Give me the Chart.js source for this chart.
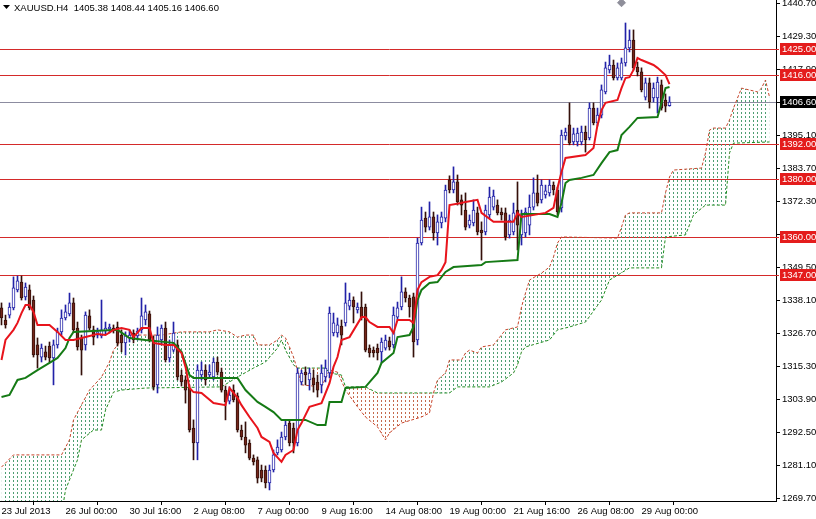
<!DOCTYPE html>
<html>
<head>
<meta charset="utf-8">
<script src="https://cdn.jsdelivr.net/npm/chart.js@4.4.0/dist/chart.umd.min.js"></script>
<style>
html, body { margin: 0; padding: 0; background: #fff; }
canvas { display: block; }
</style>
</head>
<body>
<canvas id="chart" width="816" height="519"></canvas>
<script>
var symbolTitle = 'XAUUSD.H4  1405.38 1408.44 1405.16 1406.60';

// H4 candles, bar 0 = 23 Jul 2013
var opens = [
    1335.5, 1331.3, 1333.0, 1335.5, 1341.7, 1344.4, 1339.3, 1341.7, 1338.2, 1322.7,
    1318.5, 1320.3, 1322.3, 1318.2, 1322.7, 1327.2, 1332.0, 1333.4, 1337.2, 1328.5,
    1325.1, 1322.7, 1332.7, 1327.9, 1326.1, 1325.8, 1327.5, 1328.2, 1328.5, 1328.9,
    1326.1, 1323.4, 1325.1, 1326.8, 1325.8, 1327.9, 1331.3, 1333.4, 1324.4, 1308.9,
    1324.4, 1328.5, 1318.2, 1320.9, 1322.7, 1312.3, 1310.6, 1307.8, 1294.0, 1288.8,
    1312.3, 1314.0, 1312.3, 1311.6, 1316.8, 1313.3, 1307.1, 1303.3, 1307.1, 1305.1,
    1293.3, 1290.9, 1288.8, 1283.6, 1283.0, 1279.5, 1279.5, 1275.0, 1279.5, 1285.4,
    1286.4, 1290.9, 1295.7, 1294.0, 1288.8, 1309.9, 1313.3, 1310.6, 1311.3, 1309.9,
    1308.9, 1311.6, 1313.0, 1326.8, 1326.8, 1329.2, 1330.3, 1336.1, 1338.2, 1334.8,
    1335.8, 1335.8, 1321.6, 1320.9, 1321.6, 1320.3, 1321.6, 1324.1, 1322.7, 1332.3,
    1335.8, 1341.0, 1338.9, 1339.3, 1324.4, 1357.9, 1366.5, 1363.4, 1366.9, 1361.4,
    1364.8, 1366.5, 1379.7, 1376.2, 1379.0, 1372.8, 1369.3, 1364.1, 1364.8, 1368.3,
    1362.4, 1361.7, 1367.6, 1370.3, 1371.0, 1368.6, 1368.3, 1360.7, 1361.7, 1369.3,
    1360.7, 1361.4, 1364.1, 1370.3, 1375.2, 1372.8, 1374.5, 1375.2, 1377.9, 1376.2,
    1370.0, 1394.9, 1398.7, 1392.8, 1392.8, 1392.8, 1396.2, 1394.2, 1404.5, 1399.4,
    1402.1, 1410.1, 1417.7, 1419.4, 1414.9, 1414.9, 1420.1, 1425.3, 1428.0, 1418.7,
    1417.0, 1408.3, 1413.2, 1408.0, 1408.0, 1412.5, 1407.3, 1405.38
];
var highs = [
    1337.2, 1333.0, 1337.2, 1346.2, 1346.5, 1346.5, 1344.1, 1343.4, 1339.6, 1325.1,
    1323.0, 1322.3, 1323.7, 1324.4, 1328.5, 1334.8, 1336.5, 1340.6, 1338.9, 1330.6,
    1326.1, 1334.1, 1334.8, 1329.2, 1328.5, 1338.2, 1330.6, 1329.9, 1329.6, 1330.6,
    1327.9, 1327.2, 1327.9, 1327.9, 1328.5, 1338.9, 1336.5, 1334.4, 1325.8, 1328.9,
    1329.6, 1330.6, 1324.4, 1330.6, 1324.4, 1314.0, 1312.0, 1308.9, 1296.8, 1315.8,
    1316.8, 1315.8, 1315.8, 1318.2, 1318.5, 1314.7, 1308.5, 1308.2, 1308.9, 1306.1,
    1295.0, 1296.1, 1289.9, 1284.7, 1284.0, 1281.2, 1280.9, 1281.2, 1286.4, 1289.9,
    1292.6, 1296.8, 1296.8, 1295.7, 1314.7, 1314.0, 1315.1, 1314.7, 1314.0, 1312.3,
    1315.8, 1317.5, 1335.8, 1333.7, 1332.0, 1331.3, 1344.1, 1340.6, 1339.3, 1337.2,
    1341.0, 1336.8, 1322.7, 1322.0, 1323.0, 1325.1, 1326.1, 1325.4, 1335.8, 1337.5,
    1346.2, 1342.4, 1339.9, 1340.6, 1359.6, 1370.3, 1368.6, 1372.1, 1368.6, 1367.6,
    1368.6, 1377.9, 1381.1, 1384.2, 1381.4, 1374.5, 1375.2, 1367.6, 1372.8, 1370.3,
    1365.2, 1371.0, 1377.2, 1376.2, 1372.8, 1370.0, 1370.0, 1367.6, 1371.7, 1379.0,
    1369.3, 1370.0, 1374.5, 1380.4, 1381.4, 1379.7, 1377.9, 1379.7, 1379.0, 1377.2,
    1396.9, 1397.6, 1406.3, 1397.6, 1397.6, 1398.3, 1398.3, 1406.3, 1406.3, 1404.5,
    1412.5, 1420.4, 1422.8, 1421.1, 1420.1, 1421.8, 1433.9, 1431.5, 1431.5, 1420.4,
    1418.4, 1414.9, 1414.9, 1413.2, 1415.2, 1414.2, 1409.4, 1408.44
];
var lows = [
    1329.6, 1328.5, 1332.0, 1334.8, 1341.0, 1338.2, 1338.2, 1334.8, 1318.5, 1314.7,
    1316.8, 1317.5, 1316.8, 1308.9, 1321.6, 1326.1, 1331.3, 1332.7, 1327.2, 1320.9,
    1312.3, 1320.9, 1327.9, 1322.7, 1325.1, 1325.1, 1326.5, 1326.8, 1326.8, 1322.3,
    1320.3, 1319.2, 1323.7, 1323.4, 1324.4, 1326.8, 1329.6, 1323.7, 1307.1, 1306.1,
    1322.7, 1316.8, 1316.8, 1320.3, 1310.6, 1308.5, 1302.6, 1292.6, 1283.0, 1283.0,
    1310.6, 1308.9, 1311.3, 1310.6, 1312.3, 1306.4, 1296.8, 1302.3, 1303.0, 1292.6,
    1289.9, 1285.4, 1283.0, 1281.2, 1275.0, 1275.4, 1273.3, 1272.6, 1278.8, 1284.7,
    1285.7, 1289.9, 1287.8, 1285.4, 1287.8, 1308.9, 1308.9, 1307.1, 1306.4, 1304.7,
    1306.1, 1309.9, 1311.3, 1325.8, 1325.4, 1322.7, 1329.2, 1334.8, 1330.3, 1333.7,
    1331.3, 1320.3, 1318.5, 1318.5, 1317.5, 1316.5, 1320.9, 1320.9, 1321.6, 1331.3,
    1334.8, 1337.5, 1332.3, 1318.5, 1322.7, 1357.2, 1361.7, 1362.4, 1358.9, 1357.2,
    1363.1, 1365.2, 1375.2, 1375.2, 1371.0, 1367.6, 1362.4, 1363.1, 1363.8, 1360.7,
    1352.0, 1360.7, 1366.5, 1369.3, 1367.6, 1365.8, 1358.9, 1359.6, 1360.7, 1355.5,
    1357.2, 1360.0, 1360.7, 1369.3, 1370.7, 1371.7, 1373.4, 1374.1, 1374.5, 1367.6,
    1368.6, 1393.5, 1391.8, 1391.8, 1391.4, 1391.8, 1389.3, 1393.5, 1398.7, 1398.3,
    1401.1, 1409.4, 1416.6, 1414.2, 1414.2, 1414.2, 1419.0, 1423.9, 1417.7, 1415.6,
    1410.1, 1407.3, 1404.5, 1406.6, 1402.8, 1403.8, 1403.2, 1405.16
];
var closes = [
    1332.0, 1329.6, 1335.8, 1342.4, 1344.8, 1338.9, 1342.7, 1335.5, 1319.2, 1319.2,
    1321.6, 1318.5, 1318.2, 1322.7, 1327.2, 1332.0, 1334.1, 1337.2, 1327.9, 1322.0,
    1320.9, 1333.0, 1328.5, 1325.4, 1327.2, 1327.9, 1328.5, 1328.9, 1327.9, 1323.4,
    1323.4, 1325.8, 1326.1, 1324.4, 1327.5, 1332.7, 1334.1, 1324.4, 1308.2, 1326.1,
    1328.5, 1317.5, 1322.7, 1326.8, 1311.6, 1309.9, 1307.1, 1293.3, 1288.8, 1314.0,
    1314.0, 1310.6, 1313.3, 1316.8, 1313.3, 1307.1, 1303.0, 1305.4, 1303.7, 1293.3,
    1290.9, 1288.1, 1283.6, 1282.3, 1276.7, 1276.7, 1275.0, 1279.5, 1284.7, 1287.4,
    1290.9, 1295.0, 1288.8, 1288.8, 1313.0, 1313.0, 1312.3, 1313.0, 1308.9, 1307.1,
    1313.0, 1314.7, 1333.7, 1330.3, 1329.6, 1326.1, 1337.2, 1338.2, 1335.8, 1335.8,
    1332.0, 1320.9, 1319.9, 1319.9, 1319.9, 1323.7, 1324.4, 1322.0, 1333.0, 1335.5,
    1341.0, 1338.9, 1335.8, 1323.7, 1357.9, 1365.8, 1363.4, 1366.9, 1361.4, 1365.2,
    1366.9, 1376.2, 1376.2, 1379.0, 1372.1, 1371.0, 1363.4, 1365.8, 1369.3, 1361.7,
    1361.4, 1369.3, 1373.8, 1374.1, 1368.3, 1367.6, 1360.0, 1365.8, 1368.3, 1364.1,
    1367.6, 1368.6, 1370.3, 1375.2, 1371.7, 1377.9, 1375.9, 1377.9, 1376.2, 1368.6,
    1395.2, 1396.2, 1392.4, 1395.6, 1395.9, 1396.2, 1393.5, 1404.5, 1399.4, 1402.1,
    1410.8, 1418.4, 1419.4, 1414.9, 1418.4, 1420.1, 1425.3, 1428.0, 1418.4, 1417.0,
    1410.8, 1413.2, 1406.6, 1411.4, 1413.5, 1404.5, 1405.2, 1406.60
];

// Ichimoku lines as [bar, price]
var tenkan = [
    [0,1317.5],[1,1324.4],[3,1327.9],[4,1330.3],[5,1333.7],[6,1336.5],[7,1336.5],[8,1334.1],[9,1329.6],
    [12,1329.6],[14,1327.2],[16,1324.4],[18,1324.4],[20,1325.1],[22,1325.8],[24,1326.5],[26,1326.1],
    [28,1327.9],[30,1328.5],[32,1327.9],[33,1325.4],[35,1328.5],[37,1328.5],[38,1323.4],[41,1322.7],
    [43,1322.7],[45,1319.9],[46,1315.1],[47,1307.8],[48,1306.4],[50,1306.1],[53,1302.6],[56,1301.9],
    [57,1307.8],[58,1306.1],[59,1304.4],[60,1301.9],[62,1297.8],[64,1294.0],[65,1290.9],[67,1289.2],
    [68,1285.4],[70,1282.3],[71,1284.7],[73,1286.4],[74,1293.3],[75,1295.7],[77,1301.3],[80,1302.6],
    [82,1309.5],[83,1315.1],[84,1318.5],[85,1324.4],[87,1325.4],[90,1332.3],[91,1332.3],[92,1330.6],
    [94,1328.9],[97,1328.9],[98,1326.8],[99,1331.3],[102,1331.3],[103,1330.3],[104,1341.7],[105,1344.4],
    [107,1346.2],[109,1346.8],[110,1348.6],[111,1351.3],[112,1371.0],[115,1371.7],[116,1372.1],
    [119,1372.8],[120,1368.3],[123,1365.2],[128,1365.2],[129,1368.3],[130,1366.9],[136,1368.3],
    [138,1370.0],[139,1376.9],[140,1382.4],[141,1387.3],[146,1388.3],[148,1390.7],[149,1398.7],
    [150,1403.8],[151,1406.3],[154,1407.3],[155,1411.4],[156,1414.9],[157,1415.2],[158,1417.7],
    [159,1421.8],[160,1421.1],[163,1419.4],[164,1418.4],[166,1415.9],[167,1412.8]
];
var kijun = [
    [0,1304.7],[2,1305.4],[4,1310.6],[6,1311.3],[9,1314.0],[12,1316.5],[14,1318.2],[16,1321.6],
    [17,1325.1],[18,1327.2],[29,1327.9],[32,1325.1],[36,1324.4],[43,1323.4],[45,1320.3],[47,1312.3],
    [48,1311.3],[59,1311.3],[61,1307.1],[64,1303.0],[66,1301.3],[68,1299.5],[70,1296.8],[76,1296.8],
    [79,1295.0],[81,1295.0],[82,1303.0],[85,1303.0],[86,1307.8],[91,1308.2],[94,1313.0],[95,1316.5],
    [98,1319.9],[99,1325.4],[102,1326.1],[103,1328.9],[104,1338.2],[105,1341.7],[107,1344.1],
    [109,1344.4],[111,1347.9],[113,1349.6],[120,1350.3],[121,1351.3],[129,1352.0],[130,1367.9],
    [137,1367.9],[139,1366.9],[140,1371.7],[141,1378.6],[142,1379.7],[145,1380.4],[148,1381.4],
    [150,1385.5],[152,1389.3],[154,1390.0],[155,1395.2],[157,1398.0],[159,1401.1],[164,1401.4],
    [165,1406.3],[166,1411.4],[167,1411.8]
];
var spanA = [
    [0,1280.5],[3,1284.7],[15,1284.7],[17,1289.9],[18,1296.8],[20,1302.0],[22,1307.1],[25,1311.6],
    [27,1316.8],[28,1320.9],[30,1324.4],[32,1326.1],[40,1326.1],[45,1327.2],[52,1327.2],[54,1327.9],
    [57,1327.2],[59,1325.4],[61,1326.1],[63,1326.1],[64,1322.7],[67,1322.7],[69,1324.4],[70,1326.1],
    [71,1325.1],[72,1322.0],[73,1318.5],[74,1314.0],[75,1308.9],[80,1308.2],[82,1314.0],[84,1313.3],
    [86,1307.1],[89,1301.3],[91,1297.8],[94,1294.4],[96,1289.9],[97,1292.3],[100,1295.7],[105,1297.8],
    [107,1299.2],[108,1306.1],[109,1310.6],[111,1313.0],[112,1317.5],[115,1317.5],[116,1319.9],
    [117,1320.9],[119,1319.9],[120,1322.0],[123,1322.7],[126,1327.9],[129,1328.9],[130,1335.8],
    [131,1340.6],[132,1345.1],[135,1347.5],[137,1349.6],[138,1353.1],[139,1357.9],[140,1360.0],
    [154,1359.6],[155,1363.4],[156,1367.6],[157,1368.3],[165,1368.3],[166,1375.2],[167,1380.7],
    [168,1383.1],[175,1383.8],[176,1389.0],[177,1396.9],[178,1397.6],[181,1397.6],[182,1400.4],
    [183,1404.5],[185,1411.4],[189,1410.1],[190,1411.4],[191,1414.2],[192,1408.3]
];
var spanB = [
    [0,1264.0],[15,1264.0],[16,1272.6],[19,1283.0],[20,1289.9],[23,1293.3],[25,1293.3],[26,1300.2],
    [28,1306.4],[30,1307.1],[36,1307.8],[55,1308.2],[59,1311.6],[63,1314.7],[66,1316.8],[69,1321.6],
    [70,1324.4],[71,1320.9],[73,1315.8],[74,1314.7],[81,1314.7],[82,1313.0],[85,1312.3],[86,1308.2],
    [91,1308.2],[94,1306.1],[112,1306.1],[114,1308.2],[122,1308.2],[125,1309.9],[128,1313.0],
    [129,1315.8],[130,1320.3],[131,1322.0],[137,1324.4],[139,1327.9],[142,1328.9],[146,1330.6],
    [150,1338.2],[152,1345.1],[157,1349.3],[165,1349.3],[166,1360.0],[171,1360.7],[173,1367.6],
    [176,1371.0],[181,1371.0],[182,1389.0],[183,1392.4],[192,1392.8]
];

var levels = [1425, 1416, 1392, 1380, 1360, 1347];
var lastPrice = 1406.60;
var markers = [[155, 1440.9]];

var priceTicks = [1440.70, 1429.30, 1417.90, 1406.50, 1395.10, 1383.70, 1372.30, 1360.90,
    1349.50, 1338.10, 1326.70, 1315.30, 1303.90, 1292.50, 1281.10, 1269.70];
var timeTicks = [0, 16, 32, 48, 64, 80, 96, 112, 128, 144, 160];
var timeLabels = ['23 Jul 2013', '26 Jul 00:00', '30 Jul 16:00', '2 Aug 08:00', '7 Aug 00:00',
    '9 Aug 16:00', '14 Aug 08:00', '19 Aug 00:00', '21 Aug 16:00', '26 Aug 08:00', '29 Aug 00:00'];

var BULL_EDGE = '#2222a8';
var BEAR_FILL = '#74261a';
var BEAR_EDGE = '#34100a';
var LEVEL_COLOR = '#d42a2a';
var FONT = '9.5px "Liberation Sans", Arial, sans-serif';

Chart.defaults.font.family = '"Liberation Sans", Arial, sans-serif';
Chart.defaults.font.size = 9.5;
Chart.defaults.color = '#000';

var canvas = document.getElementById('chart');
var ctx = canvas.getContext('2d');

// vertical dashed hatching, one column per bar
function dotPattern(color) {
    var tile = document.createElement('canvas');
    tile.width = 4;
    tile.height = 4;
    var g = tile.getContext('2d');
    g.fillStyle = color;
    g.fillRect(1, 0, 1, 2);
    return ctx.createPattern(tile, 'repeat');
}

function toPoints(list) {
    var out = [];
    for (var i = 0; i < list.length; i++) out.push({x: list[i][0], y: list[i][1]});
    return out;
}

var wickData = [], bodyData = [], edgeColors = [], bodyColors = [];
for (var i = 0; i < opens.length; i++) {
    var up = closes[i] >= opens[i];
    wickData.push({x: i, y: [lows[i], highs[i]]});
    bodyData.push({x: i, y: [opens[i], closes[i]]});
    edgeColors.push(up ? BULL_EDGE : BEAR_EDGE);
    bodyColors.push(up ? '#ffffff' : BEAR_FILL);
}

var overlay = {
    id: 'overlay',
    beforeDatasetsDraw: function(chart) {
        var c = chart.ctx, area = chart.chartArea, ys = chart.scales.y;
        c.save();
        c.lineWidth = 1;
        c.strokeStyle = '#8c8ca0';
        var lp = Math.round(ys.getPixelForValue(lastPrice)) + 0.5;
        c.beginPath(); c.moveTo(area.left, lp); c.lineTo(area.right, lp); c.stroke();
        c.strokeStyle = LEVEL_COLOR;
        for (var k = 0; k < levels.length; k++) {
            var py = Math.round(ys.getPixelForValue(levels[k])) + 0.5;
            c.beginPath(); c.moveTo(area.left, py); c.lineTo(area.right + 3, py); c.stroke();
        }
        c.restore();
    },
    afterDraw: function(chart) {
        var c = chart.ctx, area = chart.chartArea, ys = chart.scales.y;
        c.save();
        c.font = FONT;
        c.textBaseline = 'middle';
        c.textAlign = 'left';
        function tag(value, bg) {
            var py = Math.round(ys.getPixelForValue(value));
            c.fillStyle = bg;
            c.fillRect(area.right + 4, py - 6, 40, 12);
            c.fillStyle = '#fff';
            c.fillText(value.toFixed(2), area.right + 6, py);
        }
        for (var k = 0; k < levels.length; k++) tag(levels[k], '#e41c1c');
        tag(lastPrice, '#000');
        // symbol line
        c.fillStyle = '#000';
        c.beginPath(); c.moveTo(3, 5); c.lineTo(10, 5); c.lineTo(6.5, 9); c.closePath(); c.fill();
        c.fillText(symbolTitle, 14, 8);
        c.restore();
    }
};

new Chart(ctx, {
    type: 'bar',
    data: {
        datasets: [
            {
                type: 'line',
                data: toPoints(spanA),
                borderColor: '#c8442a',
                borderWidth: 1,
                borderDash: [3, 2],
                pointRadius: 0,
                fill: {target: 1, above: dotPattern('#4e9e72'), below: dotPattern('#c46a4c')},
                order: 8
            },
            {
                type: 'line',
                data: toPoints(spanB),
                borderColor: '#1e8c1e',
                borderWidth: 1,
                borderDash: [3, 2],
                pointRadius: 0,
                fill: false,
                order: 8
            },
            {
                data: wickData,
                grouped: false,
                barThickness: 1,
                backgroundColor: edgeColors,
                borderWidth: 0,
                order: 5
            },
            {
                data: bodyData,
                grouped: false,
                barThickness: 3,
                minBarLength: 1,
                backgroundColor: bodyColors,
                borderColor: edgeColors,
                borderWidth: 1,
                borderSkipped: false,
                order: 4
            },
            {
                type: 'line',
                data: toPoints(kijun),
                borderColor: '#157a15',
                borderWidth: 2,
                pointRadius: 0,
                fill: false,
                order: 2
            },
            {
                type: 'line',
                data: toPoints(tenkan),
                borderColor: '#e8141c',
                borderWidth: 2,
                pointRadius: 0,
                fill: false,
                order: 1
            },
            {
                type: 'line',
                data: toPoints(markers),
                showLine: false,
                pointStyle: 'rectRot',
                pointRadius: 4,
                pointBackgroundColor: '#8e8e9a',
                pointBorderColor: '#8e8e9a',
                order: 0
            }
        ]
    },
    options: {
        responsive: false,
        animation: false,
        devicePixelRatio: 1,
        layout: {padding: 0, autoPadding: false},
        plugins: {legend: {display: false}, tooltip: {enabled: false}},
        scales: {
            x: {
                type: 'linear',
                min: -0.375,
                max: 193.625,
                offset: false,
                grid: {drawOnChartArea: false, drawTicks: true, tickLength: 4, color: '#000'},
                border: {display: true, color: '#000'},
                ticks: {
                    autoSkip: false, maxRotation: 0, minRotation: 0, align: 'start', padding: 1,
                    callback: function(value, index) { return timeLabels[index]; }
                },
                afterBuildTicks: function(scale) {
                    scale.ticks = timeTicks.map(function(v) { return {value: v}; });
                },
                afterFit: function(scale) {
                    scale.height = 18;
                    scale.paddingLeft = 0;
                    scale.paddingRight = 0;
                }
            },
            y: {
                type: 'linear',
                position: 'right',
                min: 1268.78,
                max: 1441.84,
                grid: {drawOnChartArea: false, drawTicks: true, tickLength: 4, color: '#000'},
                border: {display: true, color: '#000'},
                ticks: {
                    autoSkip: false, padding: 2,
                    callback: function(value) { return Number(value).toFixed(2); }
                },
                afterBuildTicks: function(scale) {
                    scale.ticks = priceTicks.map(function(v) { return {value: v}; });
                },
                afterFit: function(scale) {
                    scale.width = 40;
                    scale.paddingTop = 0;
                    scale.paddingBottom = 0;
                }
            }
        }
    },
    plugins: [overlay]
});
</script>
</body>
</html>
